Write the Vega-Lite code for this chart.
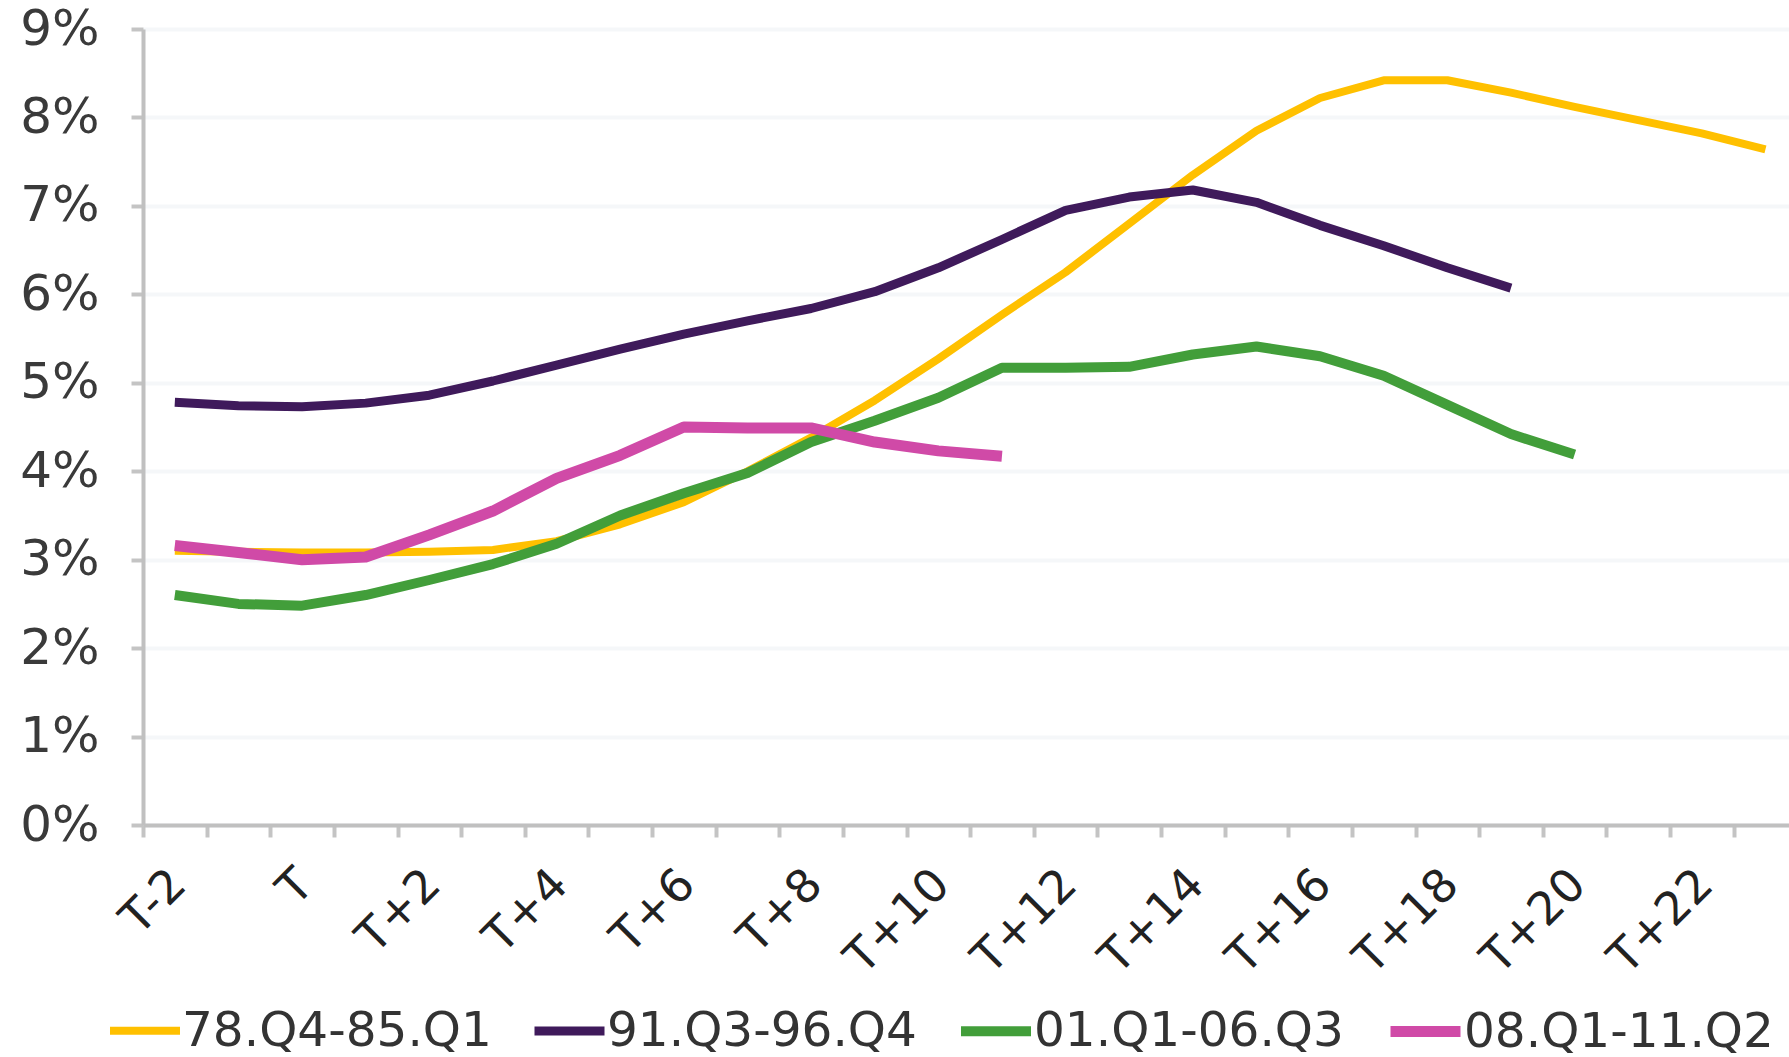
{
  "$schema": "https://vega.github.io/schema/vega-lite/v6.json",
  "width": 1646,
  "height": 796,
  "autosize": {"type": "none"},
  "padding": {"left": 143, "top": 29, "right": 0, "bottom": 232},
  "background": "white",
  "config": {"view": {"stroke": null}, "font": "DejaVu Sans"},
  "data": {"values": [
    {"series": "78.Q4-85.Q1", "t": -2, "v": 0.0310},
    {"series": "78.Q4-85.Q1", "t": -1, "v": 0.0309},
    {"series": "78.Q4-85.Q1", "t": 0, "v": 0.0308},
    {"series": "78.Q4-85.Q1", "t": 1, "v": 0.0308},
    {"series": "78.Q4-85.Q1", "t": 2, "v": 0.0309},
    {"series": "78.Q4-85.Q1", "t": 3, "v": 0.0311},
    {"series": "78.Q4-85.Q1", "t": 4, "v": 0.0321},
    {"series": "78.Q4-85.Q1", "t": 5, "v": 0.0340},
    {"series": "78.Q4-85.Q1", "t": 6, "v": 0.0365},
    {"series": "78.Q4-85.Q1", "t": 7, "v": 0.0400},
    {"series": "78.Q4-85.Q1", "t": 8, "v": 0.0438},
    {"series": "78.Q4-85.Q1", "t": 9, "v": 0.0480},
    {"series": "78.Q4-85.Q1", "t": 10, "v": 0.0527},
    {"series": "78.Q4-85.Q1", "t": 11, "v": 0.0577},
    {"series": "78.Q4-85.Q1", "t": 12, "v": 0.0625},
    {"series": "78.Q4-85.Q1", "t": 13, "v": 0.0680},
    {"series": "78.Q4-85.Q1", "t": 14, "v": 0.0735},
    {"series": "78.Q4-85.Q1", "t": 15, "v": 0.0785},
    {"series": "78.Q4-85.Q1", "t": 16, "v": 0.0822},
    {"series": "78.Q4-85.Q1", "t": 17, "v": 0.0842},
    {"series": "78.Q4-85.Q1", "t": 18, "v": 0.0842},
    {"series": "78.Q4-85.Q1", "t": 19, "v": 0.0828},
    {"series": "78.Q4-85.Q1", "t": 20, "v": 0.0812},
    {"series": "78.Q4-85.Q1", "t": 21, "v": 0.0797},
    {"series": "78.Q4-85.Q1", "t": 22, "v": 0.0782},
    {"series": "78.Q4-85.Q1", "t": 23, "v": 0.0764},
    {"series": "91.Q3-96.Q4", "t": -2, "v": 0.0478},
    {"series": "91.Q3-96.Q4", "t": -1, "v": 0.0474},
    {"series": "91.Q3-96.Q4", "t": 0, "v": 0.0473},
    {"series": "91.Q3-96.Q4", "t": 1, "v": 0.0477},
    {"series": "91.Q3-96.Q4", "t": 2, "v": 0.0486},
    {"series": "91.Q3-96.Q4", "t": 3, "v": 0.0502},
    {"series": "91.Q3-96.Q4", "t": 4, "v": 0.0520},
    {"series": "91.Q3-96.Q4", "t": 5, "v": 0.0538},
    {"series": "91.Q3-96.Q4", "t": 6, "v": 0.0555},
    {"series": "91.Q3-96.Q4", "t": 7, "v": 0.0570},
    {"series": "91.Q3-96.Q4", "t": 8, "v": 0.0584},
    {"series": "91.Q3-96.Q4", "t": 9, "v": 0.0603},
    {"series": "91.Q3-96.Q4", "t": 10, "v": 0.0630},
    {"series": "91.Q3-96.Q4", "t": 11, "v": 0.0662},
    {"series": "91.Q3-96.Q4", "t": 12, "v": 0.0695},
    {"series": "91.Q3-96.Q4", "t": 13, "v": 0.0710},
    {"series": "91.Q3-96.Q4", "t": 14, "v": 0.0718},
    {"series": "91.Q3-96.Q4", "t": 15, "v": 0.0704},
    {"series": "91.Q3-96.Q4", "t": 16, "v": 0.0678},
    {"series": "91.Q3-96.Q4", "t": 17, "v": 0.0655},
    {"series": "91.Q3-96.Q4", "t": 18, "v": 0.0630},
    {"series": "91.Q3-96.Q4", "t": 19, "v": 0.0607},
    {"series": "01.Q1-06.Q3", "t": -2, "v": 0.0260},
    {"series": "01.Q1-06.Q3", "t": -1, "v": 0.0250},
    {"series": "01.Q1-06.Q3", "t": 0, "v": 0.0248},
    {"series": "01.Q1-06.Q3", "t": 1, "v": 0.0260},
    {"series": "01.Q1-06.Q3", "t": 2, "v": 0.0277},
    {"series": "01.Q1-06.Q3", "t": 3, "v": 0.0295},
    {"series": "01.Q1-06.Q3", "t": 4, "v": 0.0318},
    {"series": "01.Q1-06.Q3", "t": 5, "v": 0.0350},
    {"series": "01.Q1-06.Q3", "t": 6, "v": 0.0375},
    {"series": "01.Q1-06.Q3", "t": 7, "v": 0.0398},
    {"series": "01.Q1-06.Q3", "t": 8, "v": 0.0433},
    {"series": "01.Q1-06.Q3", "t": 9, "v": 0.0457},
    {"series": "01.Q1-06.Q3", "t": 10, "v": 0.0483},
    {"series": "01.Q1-06.Q3", "t": 11, "v": 0.0517},
    {"series": "01.Q1-06.Q3", "t": 12, "v": 0.0517},
    {"series": "01.Q1-06.Q3", "t": 13, "v": 0.0518},
    {"series": "01.Q1-06.Q3", "t": 14, "v": 0.0532},
    {"series": "01.Q1-06.Q3", "t": 15, "v": 0.0541},
    {"series": "01.Q1-06.Q3", "t": 16, "v": 0.0530},
    {"series": "01.Q1-06.Q3", "t": 17, "v": 0.0508},
    {"series": "01.Q1-06.Q3", "t": 18, "v": 0.0475},
    {"series": "01.Q1-06.Q3", "t": 19, "v": 0.0442},
    {"series": "01.Q1-06.Q3", "t": 20, "v": 0.0419},
    {"series": "08.Q1-11.Q2", "t": -2, "v": 0.0316},
    {"series": "08.Q1-11.Q2", "t": -1, "v": 0.0308},
    {"series": "08.Q1-11.Q2", "t": 0, "v": 0.0300},
    {"series": "08.Q1-11.Q2", "t": 1, "v": 0.0303},
    {"series": "08.Q1-11.Q2", "t": 2, "v": 0.0328},
    {"series": "08.Q1-11.Q2", "t": 3, "v": 0.0355},
    {"series": "08.Q1-11.Q2", "t": 4, "v": 0.0392},
    {"series": "08.Q1-11.Q2", "t": 5, "v": 0.0418},
    {"series": "08.Q1-11.Q2", "t": 6, "v": 0.0450},
    {"series": "08.Q1-11.Q2", "t": 7, "v": 0.0449},
    {"series": "08.Q1-11.Q2", "t": 8, "v": 0.0449},
    {"series": "08.Q1-11.Q2", "t": 9, "v": 0.0433},
    {"series": "08.Q1-11.Q2", "t": 10, "v": 0.0423},
    {"series": "08.Q1-11.Q2", "t": 11, "v": 0.0417}
  ]},
  "mark": {"type": "line", "strokeCap": "butt", "strokeJoin": "round"},
  "encoding": {
    "x": {
      "field": "t",
      "type": "quantitative",
      "scale": {"domain": [-2.5, 23.37], "nice": false, "zero": false},
      "axis": {
        "title": null,
        "values": [-2.5, -1.5, -0.5, 0.5, 1.5, 2.5, 3.5, 4.5, 5.5, 6.5, 7.5, 8.5, 9.5, 10.5, 11.5, 12.5, 13.5, 14.5, 15.5, 16.5, 17.5, 18.5, 19.5, 20.5, 21.5, 22.5],
        "labelExpr": "(datum.value + 0.5) % 2 == 0 ? ((datum.value + 0.5) == 0 ? 'T' : ((datum.value + 0.5) < 0 ? 'T' + (datum.value + 0.5) : 'T+' + (datum.value + 0.5))) : ''",
        "labelAngle": -45,
        "labelAlign": "right",
        "labelBaseline": "middle",
        "labelOffset": 35,
        "labelPadding": 40,
        "labelFontSize": 46,
        "labelColor": "#222222",
        "labelOverlap": false,
        "labelFlush": false,
        "tickSize": 12,
        "tickWidth": 4,
        "tickColor": "#C4C4C4",
        "domainColor": "#C0C0C0",
        "domainWidth": 4,
        "grid": false
      }
    },
    "y": {
      "field": "v",
      "type": "quantitative",
      "scale": {"domain": [0, 0.09], "nice": false},
      "axis": {
        "title": null,
        "values": [0, 0.01, 0.02, 0.03, 0.04, 0.05, 0.06, 0.07, 0.08, 0.09],
        "format": ".0%",
        "labelFontSize": 50,
        "labelColor": "#3A3A3A",
        "labelPadding": 32,
        "tickSize": 12,
        "tickWidth": 4,
        "tickColor": "#C4C4C4",
        "domainColor": "#C0C0C0",
        "domainWidth": 4,
        "grid": true,
        "gridColor": "#F5F7F9",
        "gridWidth": 4
      }
    },
    "color": {
      "field": "series",
      "type": "nominal",
      "sort": ["78.Q4-85.Q1", "91.Q3-96.Q4", "01.Q1-06.Q3", "08.Q1-11.Q2"],
      "scale": {
        "domain": ["78.Q4-85.Q1", "91.Q3-96.Q4", "01.Q1-06.Q3", "08.Q1-11.Q2"],
        "range": ["#FFC000", "#3F1A5B", "#429E3A", "#D04AA7"]
      },
      "legend": {
        "orient": "none",
        "legendX": -37,
        "legendY": 962,
        "direction": "horizontal",
        "title": null,
        "symbolType": "stroke",
        "symbolSize": 4900,
        "symbolStrokeWidth": 8,
        "labelFontSize": 48.5,
        "labelColor": "#333333",
        "labelOffset": -2,
        "labelBaseline": "middle",
        "columnPadding": 24,
        "labelLimit": 1000
      }
    },
    "strokeWidth": {
      "field": "series",
      "type": "nominal",
      "scale": {
        "domain": ["78.Q4-85.Q1", "91.Q3-96.Q4", "01.Q1-06.Q3", "08.Q1-11.Q2"],
        "range": [8, 11, 8.5, 8.5]
      },
      "legend": null
    }
  }
}
